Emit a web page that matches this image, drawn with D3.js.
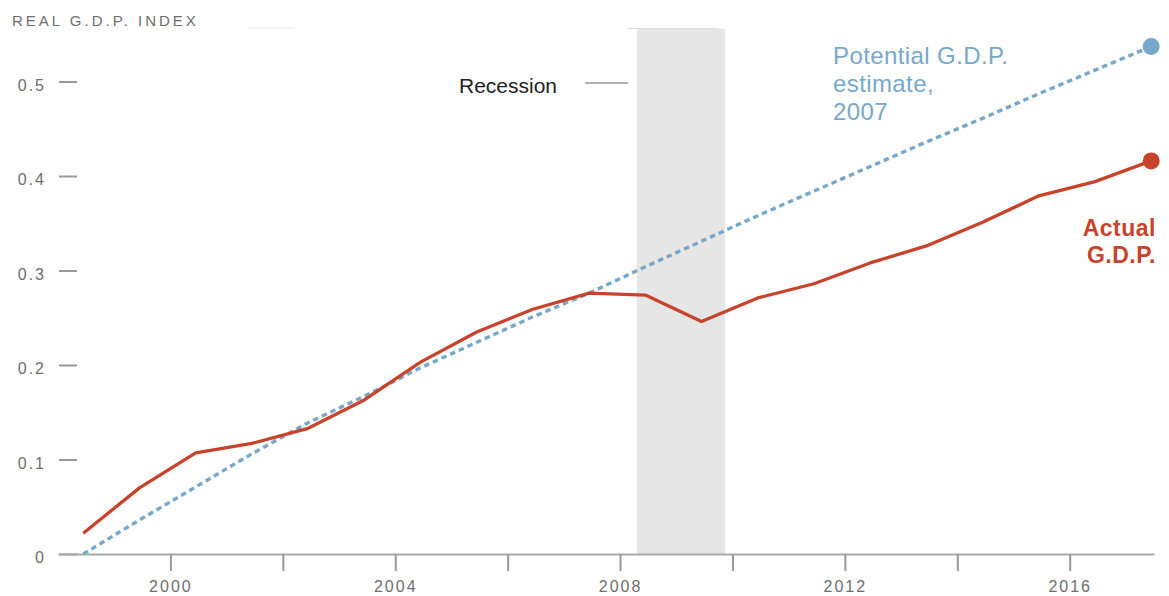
<!DOCTYPE html>
<html>
<head>
<meta charset="utf-8">
<script src="https://cdn.jsdelivr.net/npm/d3@7"></script>
<style>
  html, body { margin: 0; padding: 0; background: #fff; }
  svg { display: block; font-family: "Liberation Sans", Arial, sans-serif; }
</style>
</head>
<body>
<svg id="chart" width="1169" height="596"></svg>
<script>
// ---- data ----
const years = [1998, 1999, 2000, 2001, 2002, 2003, 2004, 2005, 2006, 2007,
               2008, 2009, 2010, 2011, 2012, 2013, 2014, 2015, 2016, 2017];
const actualGDP = [0.022, 0.070, 0.107, 0.117, 0.133, 0.163, 0.203, 0.235, 0.259, 0.276,
                   0.274, 0.246, 0.271, 0.286, 0.308, 0.326, 0.351, 0.379, 0.394, 0.416];
const potentialGDP = [0.000, 0.036, 0.071, 0.106, 0.139, 0.167, 0.197, 0.224, 0.251, 0.276,
                      0.304, 0.331, 0.358, 0.384, 0.410, 0.436, 0.461, 0.487, 0.512, 0.537];
const recession = [2007.85, 2009.42];
const xTickValues = [2000, 2002, 2004, 2006, 2008, 2010, 2012, 2014, 2016];
const xLabelValues = [2000, 2004, 2008, 2012, 2016];
const yTickValues = [0, 0.1, 0.2, 0.3, 0.4, 0.5];
const titleText = "REAL G.D.P. INDEX";
const potentialLabel = ["Potential G.D.P.", "estimate,", "2007"];
const actualLabel = ["Actual", "G.D.P."];
const recessionLabel = "Recession";

// ---- layout ----
const MIDYEAR = 0.45;
const svg = d3.select("#chart");
const x = d3.scaleLinear().domain([1998, 2017.5]).range([58, 1154]);
const y = d3.scaleLinear().domain([0, 0.5]).range([554, 81.5]);
const xd = yr => x(yr + MIDYEAR);

const BLUE = "#78a8c9";
const RED = "#c8432b";
const AXIS_TEXT = "#6e6e6e";

// recession band
svg.append("rect")
  .attr("x", xd(recession[0]))
  .attr("y", y(0.556))
  .attr("width", xd(recession[1]) - xd(recession[0]))
  .attr("height", y(0) - y(0.556))
  .attr("fill", "#e6e6e6");
svg.append("line")
  .attr("x1", xd(recession[0]) - 10).attr("x2", xd(recession[1]) - 8)
  .attr("y1", y(0.556)).attr("y2", y(0.556))
  .attr("stroke", "#dcdcdc").attr("stroke-width", 1);
svg.append("line")
  .attr("x1", 248).attr("x2", 295).attr("y1", 28).attr("y2", 28)
  .attr("stroke", "#ececec").attr("stroke-width", 1.5);

// title
svg.append("text")
  .attr("x", 12).attr("y", 26)
  .attr("font-size", 15).attr("letter-spacing", 3)
  .attr("fill", "#6e6e6e")
  .text(titleText);

// y axis
const yAxis = d3.axisLeft(y)
  .tickValues(yTickValues)
  .tickSize(18)
  .tickPadding(13)
  .tickFormat(d => d === 0 ? "0" : d3.format(".1f")(d));
const gy = svg.append("g").attr("transform", "translate(77,0)").call(yAxis);
gy.select(".domain").remove();
gy.selectAll(".tick line").attr("stroke", "#999").attr("stroke-width", 2);
gy.selectAll(".tick text")
  .attr("font-size", 16).attr("letter-spacing", 2)
  .attr("fill", AXIS_TEXT).attr("dy", "0.56em")
  .style("font-family", "'Liberation Sans', Arial, sans-serif");

// x axis
const xAxis = d3.axisBottom(x)
  .tickValues(xTickValues)
  .tickSize(17)
  .tickSizeOuter(0)
  .tickPadding(10)
  .tickFormat(d => xLabelValues.includes(d) ? String(d) : "");
const gx = svg.append("g").attr("transform", `translate(0,${y(0)})`).call(xAxis);
gx.select(".domain").attr("stroke", "#aaa").attr("stroke-width", 2);
gx.selectAll(".tick line").attr("stroke", "#999").attr("stroke-width", 2);
gx.selectAll(".tick text")
  .attr("font-size", 16).attr("letter-spacing", 2)
  .attr("fill", AXIS_TEXT)
  .style("font-family", "'Liberation Sans', Arial, sans-serif");

// lines
const line = d3.line().x((d, i) => xd(years[i])).y(d => y(d));
svg.append("path")
  .datum(potentialGDP)
  .attr("d", line)
  .attr("fill", "none")
  .attr("stroke", BLUE)
  .attr("stroke-width", 3.4)
  .attr("stroke-dasharray", "5.5,4");
svg.append("path")
  .datum(actualGDP)
  .attr("d", line)
  .attr("fill", "none")
  .attr("stroke", RED)
  .attr("stroke-width", 3.3)
  .attr("stroke-linejoin", "round");

// end dots
const last = years.length - 1;
svg.append("circle")
  .attr("cx", xd(years[last])).attr("cy", y(potentialGDP[last]))
  .attr("r", 8.5).attr("fill", BLUE);
svg.append("circle")
  .attr("cx", xd(years[last])).attr("cy", y(actualGDP[last]))
  .attr("r", 8.5).attr("fill", RED);

// recession legend
svg.append("text")
  .attr("x", 459).attr("y", 92.5)
  .attr("font-size", 21).attr("fill", "#222")
  .text(recessionLabel);
svg.append("line")
  .attr("x1", 585).attr("x2", 628).attr("y1", 83).attr("y2", 83)
  .attr("stroke", "#999").attr("stroke-width", 1.5);

// potential label
svg.append("g").selectAll("text")
  .data(potentialLabel).join("text")
  .attr("x", 833).attr("y", (d, i) => 64 + i * 28)
  .attr("font-size", 24).attr("letter-spacing", 0.4)
  .attr("fill", BLUE)
  .text(d => d);

// actual label
svg.append("g").selectAll("text")
  .data(actualLabel).join("text")
  .attr("x", 1156).attr("y", (d, i) => 236 + i * 27)
  .attr("text-anchor", "end")
  .attr("font-size", 23).attr("font-weight", "bold").attr("letter-spacing", 0.5)
  .attr("fill", RED)
  .text(d => d);
</script>
</body>
</html>
